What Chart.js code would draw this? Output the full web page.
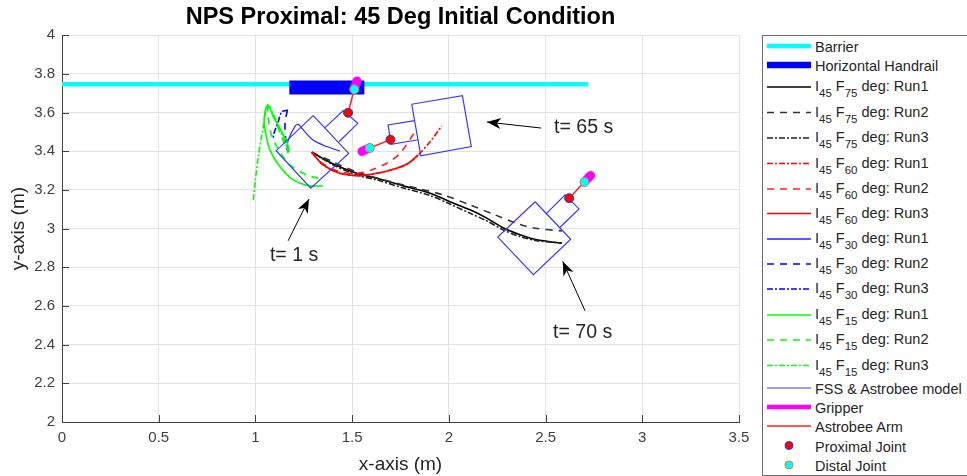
<!DOCTYPE html>
<html>
<head>
<meta charset="utf-8">
<title>NPS Proximal: 45 Deg Initial Condition</title>
<script src="https://cdn.jsdelivr.net/npm/chart.js@4/dist/chart.umd.min.js"></script>
<style>
  html, body { margin: 0; padding: 0; background: #fff; overflow: hidden; }
  #wrap { position: relative; width: 967px; height: 476px; font-family: "Liberation Sans", Arial, sans-serif; }
  #legend { position: absolute; left: 762px; top: 35px; width: 220px; height: 439px; border: 1px solid #6e6e6e; background: #fff; }
  .row-text { position: absolute; left: 52px; font-size: 14.5px; line-height: 16px; color: #262626; white-space: nowrap; }
  .row-text sub { font-size: 11.5px; line-height: 0; vertical-align: baseline; position: relative; top: 6px; }
  .row-icon { position: absolute; left: 0; top: 0; }
</style>
</head>
<body>
<div id="wrap">
  <canvas id="chart" width="967" height="476"></canvas>
  <div id="legend"></div>
</div>
<script>
const xTicks = [0, 0.5, 1, 1.5, 2, 2.5, 3, 3.5];
const yTicks = [2, 2.2, 2.4, 2.6, 2.8, 3, 3.2, 3.4, 3.6, 3.8, 4];

const barrierX = [0, 2.72];
const barrierY = [3.747, 3.747];
const handrailX = [1.175, 1.563];
const handrailY = [3.73, 3.73];

// trajectories
const f75Run1X = [1.291, 1.403, 1.524, 1.627, 1.765, 1.903, 2.006, 2.11, 2.196, 2.28, 2.368, 2.455, 2.584];
const f75Run1Y = [3.395, 3.334, 3.286, 3.26, 3.221, 3.183, 3.139, 3.097, 3.054, 3.004, 2.968, 2.942, 2.925];
const f75Run2X = [1.291, 1.401, 1.524, 1.696, 1.834, 1.972, 2.11, 2.239, 2.368, 2.446, 2.584];
const f75Run2Y = [3.395, 3.345, 3.293, 3.243, 3.209, 3.174, 3.122, 3.071, 3.021, 3.002, 2.988];
const f75Run3X = [1.291, 1.403, 1.524, 1.627, 1.765, 1.903, 2.006, 2.11, 2.196, 2.28, 2.368, 2.455, 2.584];
const f75Run3Y = [3.395, 3.329, 3.277, 3.252, 3.21, 3.171, 3.127, 3.079, 3.04, 2.994, 2.959, 2.938, 2.925];

const f60Run1X = [1.291, 1.351, 1.437, 1.541, 1.644, 1.731, 1.791, 1.842, 1.903, 1.963];
const f60Run1Y = [3.395, 3.329, 3.286, 3.274, 3.289, 3.312, 3.338, 3.381, 3.449, 3.53];
const f60Run2X = [1.291, 1.351, 1.437, 1.524, 1.61, 1.679, 1.748, 1.825];
const f60Run2Y = [3.395, 3.334, 3.294, 3.286, 3.307, 3.338, 3.389, 3.501];
const f60Run3X = [1.291, 1.351, 1.437, 1.541, 1.644, 1.731, 1.791, 1.842];
const f60Run3Y = [3.395, 3.329, 3.286, 3.274, 3.289, 3.312, 3.338, 3.381];

const f30Run1X = [1.437, 1.369, 1.298, 1.239, 1.222, 1.205, 1.17, 1.162];
const f30Run1Y = [3.401, 3.424, 3.458, 3.519, 3.539, 3.53, 3.458, 3.407];
const f30Run2X = [1.165, 1.153, 1.158, 1.17];
const f30Run2Y = [3.613, 3.544, 3.449, 3.398];
const f30Run3X = [1.169, 1.136, 1.118, 1.093, 1.093];
const f30Run3Y = [3.613, 3.604, 3.553, 3.484, 3.469];

const f15Run1X = [1.348, 1.282, 1.196, 1.127, 1.075, 1.05, 1.046, 1.064, 1.093, 1.162, 1.175];
const f15Run1Y = [3.221, 3.221, 3.252, 3.32, 3.407, 3.51, 3.579, 3.639, 3.579, 3.449, 3.398];
const f15Run2X = [1.325, 1.265, 1.179, 1.11, 1.075, 1.067, 1.17];
const f15Run2Y = [3.26, 3.277, 3.329, 3.424, 3.51, 3.63, 3.39];
const f15Run3X = [0.989, 0.998, 1.015, 1.041, 1.064, 1.117, 1.169];
const f15Run3Y = [3.148, 3.234, 3.372, 3.527, 3.639, 3.535, 3.406];

// three poses, null breaks the line between them
const modelX = [1.299, 1.482, 1.286, 1.107, 1.299, null, 1.36, 1.454, 1.529, 1.432, null,
  1.808, 2.07, 2.116, 1.855, 1.808, null, 1.822, 1.686, 1.701, 1.837, null,
  2.446, 2.63, 2.437, 2.253, 2.446, null, 2.506, 2.601, 2.673, 2.575];
const modelY = [3.584, 3.389, 3.209, 3.403, 3.584, null, 3.522, 3.61, 3.544, 3.449, null,
  3.643, 3.687, 3.424, 3.376, 3.643, null, 3.558, 3.536, 3.436, 3.458, null,
  3.139, 2.945, 2.762, 2.956, 3.139, null, 3.08, 3.174, 3.102, 3.007];
const gripperX = [1.511, 1.525, null, 1.591, 1.551, null, 2.701, 2.733];
const gripperY = [3.72, 3.763, null, 3.417, 3.399, null, 3.241, 3.275];
const armX = [1.479, 1.511, null, 1.698, 1.591, null, 2.622, 2.701];
const armY = [3.599, 3.72, null, 3.46, 3.417, null, 3.157, 3.241];
const proximalX = [1.479, 1.698, 2.622];
const proximalY = [3.599, 3.46, 3.157];
const distalX = [1.511, 1.591, 2.701];
const distalY = [3.72, 3.417, 3.241];

const noteLabels = ["t= 65 s", "t= 1 s", "t= 70 s"];
const noteX = [2.544, 1.075, 2.539];
const noteY = [3.52, 2.86, 2.462];
const arrowTailX = [2.477, 1.169, 2.704];
const arrowTailY = [3.52, 2.937, 2.575];
const arrowTipX = [2.197, 1.277, 2.589];
const arrowTipY = [3.551, 3.153, 2.83];

const solid = [];
const dashed = [7, 6];
const dashDot = [6, 2, 2, 2];

function pts(xs, ys) {
  return xs.map((x, i) => ({ x: x, y: ys[i] }));
}

function line(label, xs, ys, color, width, dash, legendWidth, cap) {
  return {
    label: label,
    data: pts(xs, ys),
    borderColor: color,
    backgroundColor: color,
    borderWidth: width,
    borderDash: dash,
    borderCapStyle: cap || "butt",
    tension: 0,
    pointRadius: 0,
    showLine: true,
    legendWidth: legendWidth || width
  };
}

function run(label, xs, ys, color, dash, width) {
  const ds = line(label, xs, ys, color, width || 1.6, dash, 1.6);
  ds.tension = 0.3;
  return ds;
}

function joint(label, xs, ys, fill, edge) {
  return {
    label: label,
    data: pts(xs, ys),
    showLine: false,
    pointRadius: 4.5,
    pointBackgroundColor: fill,
    pointBorderColor: edge,
    pointBorderWidth: 1,
    isJoint: true
  };
}

const datasets = [
  line("Barrier", barrierX, barrierY, "#00ffff", 4.5, solid),
  line("Horizontal Handrail", handrailX, handrailY, "#0000ff", 14, solid, 6.5),
  run("I45 F75 deg: Run1", f75Run1X, f75Run1Y, "#000000", solid),
  run("I45 F75 deg: Run2", f75Run2X, f75Run2Y, "#333333", dashed),
  run("I45 F75 deg: Run3", f75Run3X, f75Run3Y, "#222222", dashDot),
  run("I45 F60 deg: Run1", f60Run1X, f60Run1Y, "#ff0000", dashDot),
  run("I45 F60 deg: Run2", f60Run2X, f60Run2Y, "#ff2020", dashed),
  run("I45 F60 deg: Run3", f60Run3X, f60Run3Y, "#ff0000", solid),
  run("I45 F30 deg: Run1", f30Run1X, f30Run1Y, "#2222ff", solid, 1.1),
  run("I45 F30 deg: Run2", f30Run2X, f30Run2Y, "#0000ff", dashed),
  run("I45 F30 deg: Run3", f30Run3X, f30Run3Y, "#0000ff", dashDot),
  run("I45 F15 deg: Run1", f15Run1X, f15Run1Y, "#00ff00", solid),
  run("I45 F15 deg: Run2", f15Run2X, f15Run2Y, "#00ff00", dashed),
  run("I45 F15 deg: Run3", f15Run3X, f15Run3Y, "#00ff00", dashDot),
  line("FSS & Astrobee model", modelX, modelY, "#3838ff", 1.2, solid),
  line("Gripper", gripperX, gripperY, "#ff00ff", 9, solid, 4.5, "round"),
  line("Astrobee Arm", armX, armY, "#ff2020", 1.5, solid),
  joint("Proximal Joint", proximalX, proximalY, "#ff0000", "#2040c0"),
  joint("Distal Joint", distalX, distalY, "#00ffff", "#d08040")
];
// first dataset goes on the bottom, like plot order in the original
datasets.forEach((ds, i) => { ds.order = datasets.length - i; });

// ticks point inward and the arrows with their notes sit on the data scales
const extras = {
  id: "extras",
  afterDatasetsDraw(chart) {
    const c = chart.ctx, sx = chart.scales.x, sy = chart.scales.y, area = chart.chartArea;
    c.save();
    c.strokeStyle = "#404040";
    c.lineWidth = 1;
    xTicks.forEach((t) => {
      const p = Math.round(sx.getPixelForValue(t)) + 0.5;
      c.beginPath(); c.moveTo(p, area.bottom); c.lineTo(p, area.bottom - 7); c.stroke();
    });
    yTicks.forEach((t) => {
      const p = Math.round(sy.getPixelForValue(t)) + 0.5;
      c.beginPath(); c.moveTo(area.left, p); c.lineTo(area.left + 7, p); c.stroke();
    });
    c.strokeStyle = "#000";
    c.fillStyle = "#000";
    arrowTipX.forEach((tx, i) => {
      const x1 = sx.getPixelForValue(arrowTailX[i]), y1 = sy.getPixelForValue(arrowTailY[i]);
      const x2 = sx.getPixelForValue(tx), y2 = sy.getPixelForValue(arrowTipY[i]);
      const a = Math.atan2(y2 - y1, x2 - x1);
      c.beginPath(); c.moveTo(x1, y1); c.lineTo(x2, y2); c.stroke();
      c.beginPath();
      c.moveTo(x2, y2);
      c.lineTo(x2 - 15 * Math.cos(a - 0.38), y2 - 15 * Math.sin(a - 0.38));
      c.lineTo(x2 - 10 * Math.cos(a), y2 - 10 * Math.sin(a));
      c.lineTo(x2 - 15 * Math.cos(a + 0.38), y2 - 15 * Math.sin(a + 0.38));
      c.closePath();
      c.fill();
    });
    c.fillStyle = "#262626";
    c.font = '19.5px "Liberation Sans", Arial, sans-serif';
    c.textAlign = "left";
    c.textBaseline = "middle";
    noteLabels.forEach((s, i) => c.fillText(s, sx.getPixelForValue(noteX[i]), sy.getPixelForValue(noteY[i])));
    c.restore();
  }
};

const chart = new Chart(document.getElementById("chart").getContext("2d"), {
  type: "scatter",
  data: { datasets: datasets },
  plugins: [extras],
  options: {
    responsive: false,
    animation: false,
    layout: { padding: { top: 0, right: 228, left: 0, bottom: 0 } },
    font: { family: '"Liberation Sans", Arial, sans-serif' },
    plugins: {
      legend: { display: false },
      tooltip: { enabled: false },
      title: {
        display: true,
        text: "NPS Proximal: 45 Deg Initial Condition",
        fullSize: false,
        color: "#000",
        font: { family: '"Liberation Sans", Arial, sans-serif', size: 23.5, weight: "bold", lineHeight: 1.2 },
        padding: { top: 3, bottom: 4 }
      }
    },
    scales: {
      x: {
        type: "linear",
        min: 0,
        max: 3.5,
        afterBuildTicks: (s) => { s.ticks = xTicks.map((v) => ({ value: v })); },
        afterFit: (s) => { s.height = 54; },
        grid: { color: "#e2e2e2", drawTicks: false },
        border: { color: "#404040" },
        ticks: { color: "#404040", padding: 7, maxRotation: 0, font: { size: 15 }, callback: (v) => String(v) },
        title: { display: true, text: "x-axis (m)", color: "#262626", font: { size: 19 }, padding: { top: 4, bottom: 0 } }
      },
      y: {
        type: "linear",
        min: 2,
        max: 4,
        afterBuildTicks: (s) => { s.ticks = yTicks.map((v) => ({ value: v })); },
        afterFit: (s) => { s.width = 62; },
        grid: { color: "#e2e2e2", drawTicks: false },
        border: { color: "#404040" },
        ticks: { color: "#404040", padding: 7, font: { size: 15 }, callback: (v) => String(v) },
        title: { display: true, text: "y-axis (m)", color: "#262626", font: { size: 19 }, padding: { top: 7, bottom: 0 } }
      }
    }
  }
});

// legend is HTML because Chart.js labels have no subscripts
const legendRowY = [46, 65, 87, 112.5, 138, 163.5, 189, 213.5, 239, 264, 289, 315, 340, 365.5, 388, 407, 426, 445.5, 465];
const legendEl = document.getElementById("legend");
const legendTop = 36;
const svgNS = "http://www.w3.org/2000/svg";
const icons = document.createElementNS(svgNS, "svg");
icons.setAttribute("class", "row-icon");
icons.setAttribute("width", 200);
icons.setAttribute("height", 439);
legendEl.appendChild(icons);

datasets.forEach((ds, i) => {
  const y = legendRowY[i] - legendTop;
  if (ds.isJoint) {
    const dot = document.createElementNS(svgNS, "circle");
    dot.setAttribute("cx", 26);
    dot.setAttribute("cy", y);
    dot.setAttribute("r", 4);
    dot.setAttribute("fill", ds.pointBackgroundColor);
    dot.setAttribute("stroke", ds.pointBorderColor);
    icons.appendChild(dot);
  } else {
    const l = document.createElementNS(svgNS, "line");
    l.setAttribute("x1", 4);
    l.setAttribute("x2", 48);
    l.setAttribute("y1", y);
    l.setAttribute("y2", y);
    l.setAttribute("stroke", ds.borderColor);
    l.setAttribute("stroke-width", ds.legendWidth);
    l.setAttribute("stroke-dasharray", ds.borderDash.join(" "));
    icons.appendChild(l);
  }
  const m = ds.label.match(/^I(\d+) F(\d+) (.*)$/);
  const t = document.createElement("div");
  t.className = "row-text";
  if (m) {
    t.innerHTML = "I<sub>" + m[1] + "</sub> F<sub>" + m[2] + "</sub> " + m[3];
    t.style.top = (y - 9) + "px";
  } else {
    t.textContent = ds.label;
    t.style.top = (y - 7) + "px";
  }
  legendEl.appendChild(t);
});
</script>
</body>
</html>
